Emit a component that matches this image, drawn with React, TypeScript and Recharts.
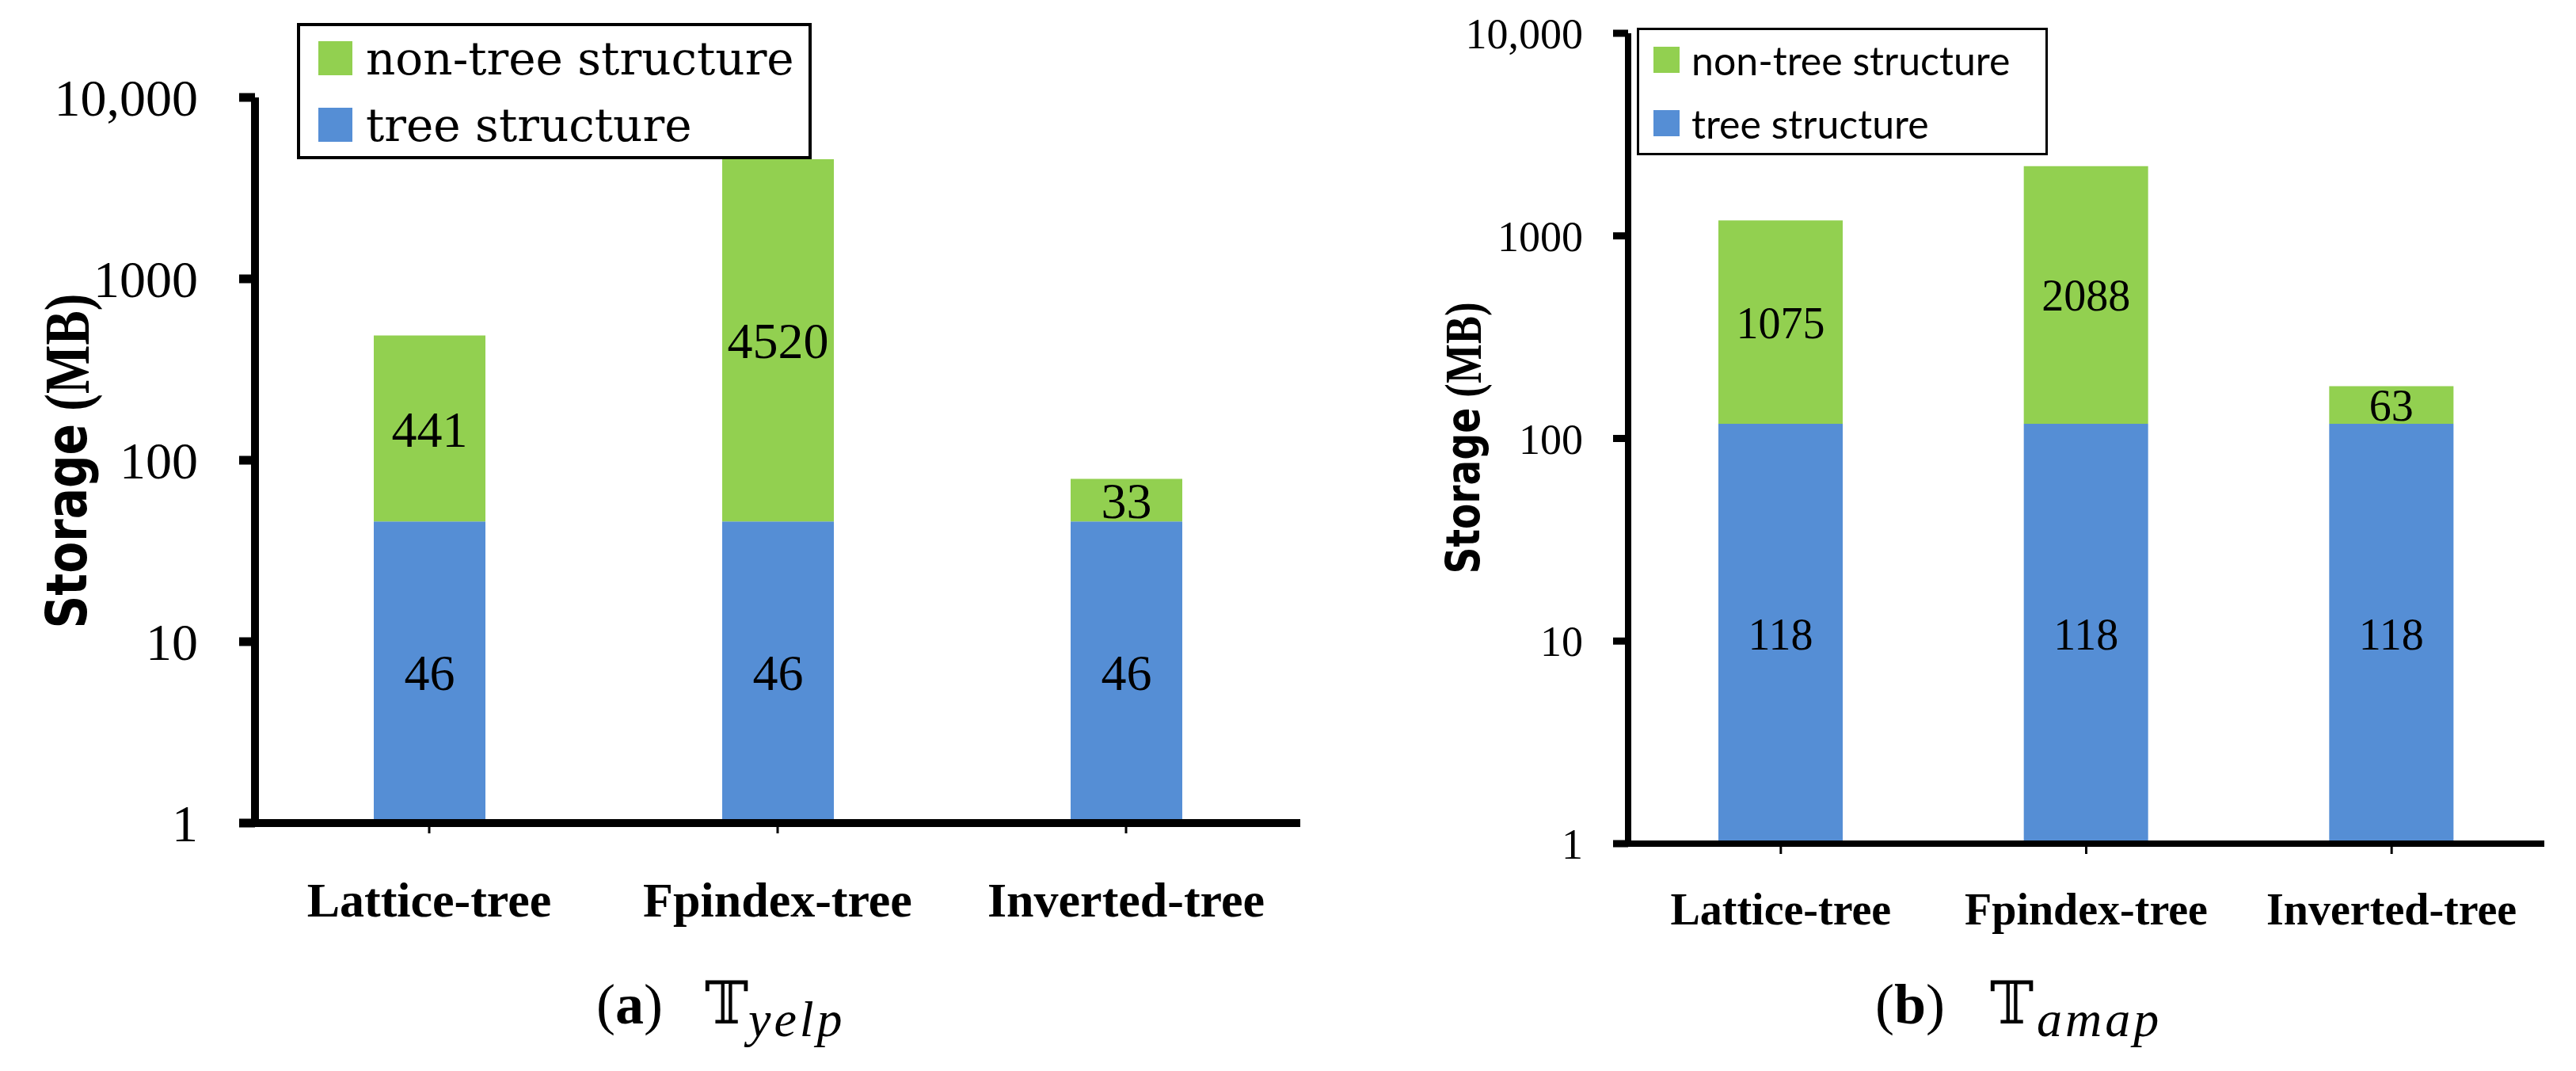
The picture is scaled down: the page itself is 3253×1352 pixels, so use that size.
import { BarChart, Bar, XAxis, YAxis, LabelList } from "recharts";

const categories = ["Lattice-tree", "Fpindex-tree", "Inverted-tree"];
const yelpTree = [46, 46, 46];
const yelpNonTree = [441, 4520, 33];
const amapTree = [118, 118, 118];
const amapNonTree = [1075, 2088, 63];
const yTicks = [1, 10, 100, 1000, 10000];
const yTickLabels = ["1", "10", "100", "1000", "10,000"];
const seriesNames = ["non-tree structure", "tree structure"];

const GREEN = "#92D050";
const BLUE = "#558ED5";
const SERIF = "'Liberation Serif', 'DejaVu Serif', serif";

function buildRows(tree: number[], nonTree: number[]) {
  return categories.map((name, i) => ({
    name,
    tree: tree[i],
    nonTree: nonTree[i],
    upper: [tree[i], tree[i] + nonTree[i]],
  }));
}

const fmtY = (v: number) => yTickLabels[yTicks.indexOf(v)] ?? String(v);

type PanelProps = {
  rows: ReturnType<typeof buildRows>;
  left: number;
  width: number;
  margin: { top: number; right: number; bottom: number; left: number };
  barSize: number;
  axisWidth: number;
  tickFont: number;
  tickMargin: number;
  ySize: number;
  catFont: number;
  catMargin: number;
  valueFont: number;
  yLabel: { x: number; y: number; size: number; length: number };
};

function Panel(p: PanelProps) {
  return (
    <div style={{ position: "absolute", left: p.left, top: 0 }}>
      <BarChart
        width={p.width}
        height={1352}
        data={p.rows}
        margin={p.margin}
        barGap={-p.barSize}
      >
        <XAxis
          dataKey="name"
          height={60}
          axisLine={{ stroke: "#000", strokeWidth: p.axisWidth }}
          tickLine={{ stroke: "#000", strokeWidth: 3 }}
          tickSize={13}
          tickMargin={p.catMargin}
          tick={{ fontSize: p.catFont, fontWeight: "bold", fill: "#000", fontFamily: SERIF }}
        />
        <YAxis
          scale="log"
          type="number"
          domain={[1, 10000]}
          allowDataOverflow
          ticks={yTicks}
          interval={0}
          width={150}
          tickFormatter={fmtY}
          axisLine={{ stroke: "#000", strokeWidth: p.axisWidth }}
          tickLine={{ stroke: "#000", strokeWidth: p.axisWidth + 1 }}
          tickSize={p.ySize}
          tickMargin={p.tickMargin}
          tick={{ fontSize: p.tickFont, fill: "#000", fontFamily: SERIF }}
          label={{
            content: () => (
              <text
                transform={`translate(${p.yLabel.x},${p.yLabel.y}) rotate(-90)`}
                textAnchor="middle"
                dominantBaseline="central"
                fontSize={p.yLabel.size}
                fontWeight="bold"
                fill="#000"
                textLength={p.yLabel.length}
                lengthAdjust="spacingAndGlyphs"
              >
                <tspan fontFamily="'DejaVu Sans', sans-serif">Storage</tspan>
                <tspan fontFamily={SERIF} fontSize={p.yLabel.size * 1.12}> (MB)</tspan>
              </text>
            ),
          }}
        />
        <Bar dataKey="tree" fill={BLUE} barSize={p.barSize} isAnimationActive={false}>
          <LabelList
            dataKey="tree"
            position="center"
            fill="#000"
            fontSize={p.valueFont}
            fontFamily={SERIF}
          />
        </Bar>
        <Bar dataKey="upper" fill={GREEN} barSize={p.barSize} isAnimationActive={false}>
          <LabelList
            dataKey="nonTree"
            position="center"
            fill="#000"
            fontSize={p.valueFont}
            fontFamily={SERIF}
          />
        </Bar>
      </BarChart>
    </div>
  );
}

function LegendBox(props: {
  left: number; top: number; width: number; height: number; border: number;
  swatch: number; swLeft: number; rowTops: number[]; gap: number;
  font: number; family: string;
}) {
  const colors = [GREEN, BLUE];
  return (
    <div
      style={{
        position: "absolute", left: props.left, top: props.top, width: props.width,
        height: props.height, border: `${props.border}px solid #000`, boxSizing: "border-box",
        background: "#fff",
      }}
    >
      {seriesNames.map((name, i) => (
        <div
          key={name}
          style={{
            position: "absolute", left: props.swLeft - props.border, top: props.rowTops[i] - props.border,
            height: props.swatch, display: "flex", alignItems: "center", whiteSpace: "nowrap",
          }}
        >
          <span style={{ width: props.swatch, height: props.swatch, background: colors[i], display: "inline-block", flex: "none" }} />
          <span style={{ marginLeft: props.gap, fontSize: props.font, fontFamily: props.family, color: "#000", lineHeight: 1 }}>
            {name}
          </span>
        </div>
      ))}
    </div>
  );
}

function Caption(props: { x: number; tx: number; sx: number; tag: string; sub: string }) {
  return (
    <g fill="#000">
      <text x={props.x} y={1292} fontSize={72} fontFamily={SERIF}>
        (<tspan fontWeight="bold">{props.tag}</tspan>)
      </text>
      <text x={props.tx} y={1292} fontSize={74} fontFamily="'DejaVu Serif', 'DejaVu Sans', serif">
        𝕋
      </text>
      <text x={props.sx} y={1308} fontSize={64} fontStyle="italic" fontFamily={SERIF} letterSpacing={4}>
        {props.sub}
      </text>
    </g>
  );
}

export default function App() {
  const yelpRows = buildRows(yelpTree, yelpNonTree);
  const amapRows = buildRows(amapTree, amapNonTree);
  return (
    <div style={{ position: "absolute", left: 0, top: 0, width: 3253, height: 1352, background: "#fff", overflow: "hidden" }}>
      <Panel
        rows={yelpRows}
        left={0}
        width={1700}
        margin={{ top: 123, right: 58, bottom: 253, left: 172 }}
        barSize={141}
        axisWidth={10}
        tickFont={66}
        tickMargin={52}
        ySize={20}
        catFont={62}
        catMargin={61}
        valueFont={64}
        yLabel={{ x: 84, y: 582, size: 72, length: 423 }}
      />
      <Panel
        rows={amapRows}
        left={1700}
        width={1553}
        margin={{ top: 42, right: 40, bottom: 227, left: 206 }}
        barSize={157}
        axisWidth={8}
        tickFont={54}
        tickMargin={38}
        ySize={19}
        catFont={56}
        catMargin={49}
        valueFont={56}
        yLabel={{ x: 148, y: 553, size: 58, length: 343 }}
      />
      <LegendBox
        left={375} top={29} width={650} height={172} border={4}
        swatch={43} swLeft={27} rowTops={[23, 107]} gap={17}
        font={58} family="'DejaVu Serif', serif"
      />
      <LegendBox
        left={2067} top={35} width={519} height={161} border={3}
        swatch={33} swLeft={21} rowTops={[24, 104]} gap={15}
        font={50} family="Lato, 'Liberation Sans', sans-serif"
      />
      <svg width={3253} height={1352} style={{ position: "absolute", left: 0, top: 0, pointerEvents: "none" }}>
        <Caption x={753} tx={890} sx={945} tag="a" sub="yelp" />
        <Caption x={2368} tx={2513} sx={2572} tag="b" sub="amap" />
      </svg>
    </div>
  );
}
